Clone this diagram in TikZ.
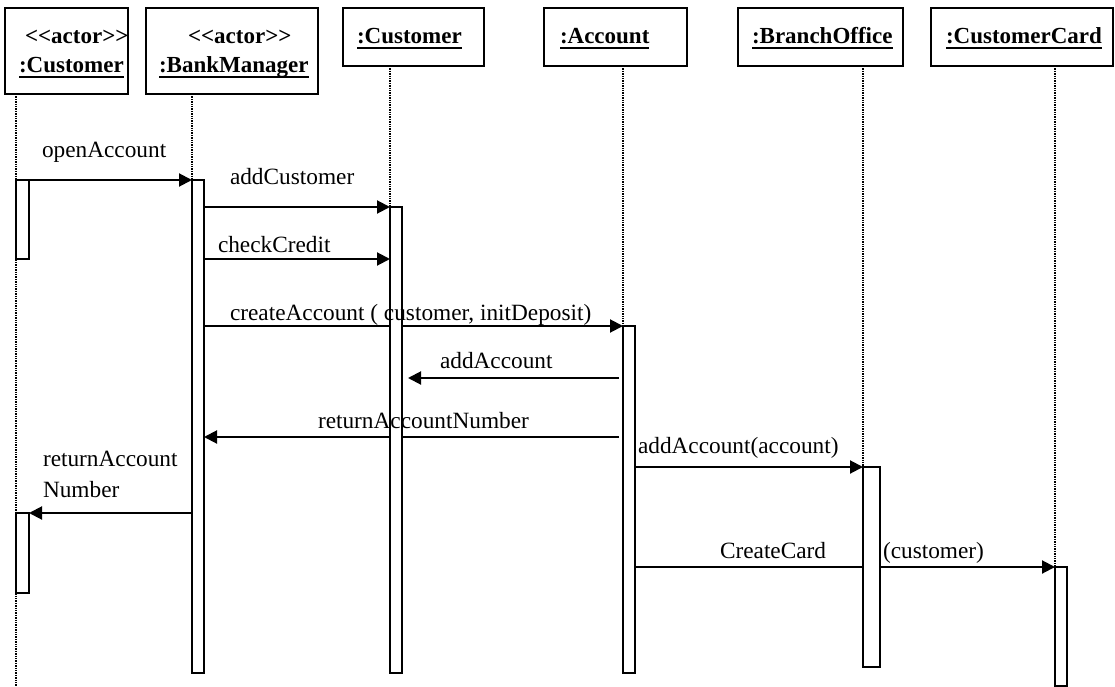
\documentclass[tikz,border=0pt]{standalone}
\usepackage{fontspec}
\setmainfont{Liberation Serif}
\usetikzlibrary{arrows.meta,backgrounds}
\newcommand\uln[1]{\setbox0=\hbox{#1}\rlap{\rule[-5.5pt]{\wd0}{2pt}}\box0}
\tikzset{
 head/.style={draw, line width=1.3pt, inner sep=0pt, outer sep=0pt},
 act/.style={draw, line width=1.3pt, fill=white, inner sep=0pt, outer sep=0pt},
 life/.style={line width=1.9pt, dash pattern=on 1.4pt off 1pt},
 msg/.style={line width=2pt, -{Triangle[length=13pt,width=13pt]}},
 lbl/.style={anchor=base west, inner sep=0pt, outer sep=0pt, font=\fontsize{23.3}{27}\selectfont},
 blbl/.style={anchor=base west, inner sep=0pt, outer sep=0pt, font=\fontsize{23}{27}\selectfont\bfseries},
}
\begin{document}
\begin{tikzpicture}[x=1pt,y=-1pt]
\useasboundingbox (0,0) rectangle (1115,687);
% header boxes
\node[head, minimum width=123pt, minimum height=86pt] (H1) at (66.5,51) {};
\node[head, minimum width=172pt, minimum height=86pt] (H2) at (232,51) {};
\node[head, minimum width=141pt, minimum height=58pt] (H3) at (413.5,37) {};
\node[head, minimum width=143pt, minimum height=58pt] (H4) at (615.5,37) {};
\node[head, minimum width=165pt, minimum height=58pt] (H5) at (820.5,37) {};
\node[head, minimum width=182pt, minimum height=58pt] (H6) at (1022,37) {};
% header texts
\node[blbl] (t1a) at (25,44) {<\kern0pt<actor>\kern0pt>};
\node[blbl] (t1b) at (19,73) {\uln{:Customer}};
\node[blbl] (t2a) at (188,44) {<\kern0pt<actor>\kern0pt>};
\node[blbl] (t2b) at (159,73) {\uln{:BankManager}};
\node[blbl] (t3) at (357,44) {\uln{:Customer}};
\node[blbl] (t4) at (560,44) {\uln{:Account}};
\node[blbl] (t5) at (752,44) {\uln{:BranchOffice}};
\node[blbl] (t6) at (946,44) {\uln{:CustomerCard}};
% activations
\node[act, minimum width=13pt, minimum height=79pt] (A1a) at (22.5,219.5) {};
\node[act, minimum width=13pt, minimum height=80pt] (A1b) at (22.5,553) {};
\node[act, minimum width=12pt, minimum height=493pt] (A2) at (198,426.5) {};
\node[act, minimum width=12pt, minimum height=466pt] (A3) at (396,440) {};
\node[act, minimum width=12pt, minimum height=347pt] (A4) at (629,499.5) {};
\node[act, minimum width=17pt, minimum height=200pt] (A5) at (871.5,567) {};
\node[act, minimum width=12pt, minimum height=119pt] (A6) at (1061,626.5) {};
\coordinate (L1end) at (16,687);
\begin{scope}[on background layer]
% lifelines
\draw[life] (A1a.north west |- H1.south) -- (L1end);
\draw[life] (A2.north west |- H2.south) -- (A2.north west);
\draw[life] (A3.north west |- H3.south) -- (A3.north west);
\draw[life] (A4.north west |- H4.south) -- (A4.north west);
\draw[life] (A5.north west |- H5.south) -- (A5.north west);
\draw[life] (A6.north west |- H6.south) -- (A6.north west);
% messages
\draw[msg] (A1a.north west) -- (A2.north west);
\draw[msg] (A2.east |- A3.north) -- (A3.north west);
\draw[msg] (A2.east |- 0,259) -- (A3.west |- 0,259);
\draw[msg] (A2.east |- A4.north) -- (A4.north west);
\draw[msg] ([xshift=-4pt]A4.west |- 0,378) -- ([xshift=6pt]A3.east |- 0,378);
\draw[msg] ([xshift=-4pt]A4.west |- 0,437) -- (A2.east |- 0,437);
\draw[msg] (A4.east |- A5.north) -- (A5.north west);
\draw[msg] (A2.west |- A1b.north) -- (A1b.north east);
\draw[msg] (A4.east |- A6.north) -- (A6.north west);
\end{scope}
% message labels
\node[lbl] (m1) at (42,158) {openAccount};
\node[lbl] (m2) at (230,185) {addCustomer};
\node[lbl] (m3) at (218,252) {checkCredit};
\node[lbl] (m4) at (230,320) {createAccount ( customer, initDeposit)};
\node[lbl] (m5) at (440,368) {addAccount};
\node[lbl] (m6) at (318,428) {returnAccountNumber};
\node[lbl] (m7) at (638,453) {addAccount(account)};
\node[lbl] (m8a) at (43,466) {returnAccount};
\node[lbl] (m8b) at (43,497) {Number};
\node[lbl] (m9a) at (720,558) {CreateCard};
\node[lbl] (m9b) at (883,558) {(customer)};
\end{tikzpicture}
\end{document}
